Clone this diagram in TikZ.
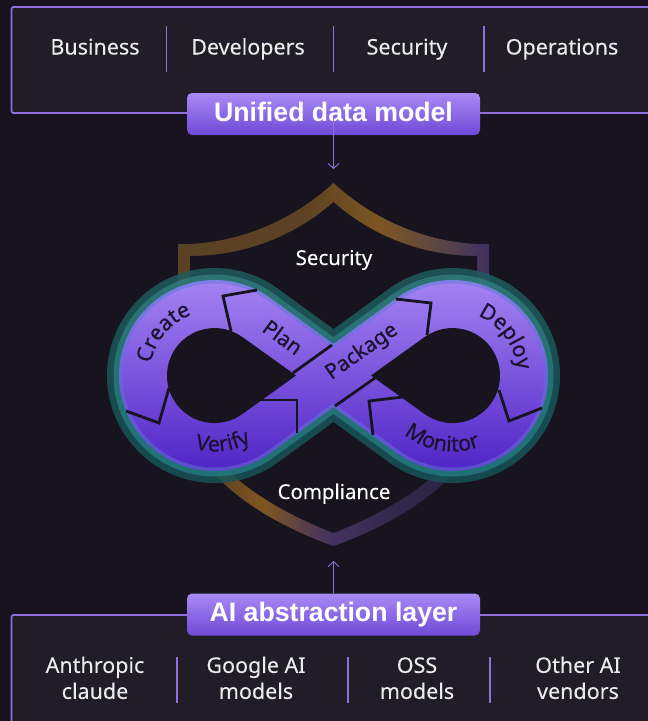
\documentclass[tikz,border=0pt]{standalone}
\usepackage{fontspec}
\setmainfont{Noto Sans}
\newfontfamily\medfont[FakeBold=0.55]{Noto Sans}
\newfontfamily\softfont[FakeBold=0.15]{Noto Sans}
\newfontfamily\pillfont{Liberation Sans}[BoldFont={* Bold}]
\usetikzlibrary{arrows.meta,decorations.text,calc}
\definecolor{bgdark}{HTML}{17141F}
\definecolor{panelbg}{HTML}{201D29}
\definecolor{edge}{HTML}{9070DC}
\definecolor{inktxt}{HTML}{1B1230}
\definecolor{seamc}{HTML}{17141F}
\definecolor{pilltop}{HTML}{A98AF5}
\definecolor{pillbot}{HTML}{6F49D6}
\definecolor{su1}{HTML}{5A4225}\definecolor{su2}{HTML}{5C4122}\definecolor{su3}{HTML}{7C5622}\definecolor{su4}{HTML}{5C4545}\definecolor{su5}{HTML}{3E3062}
\definecolor{sl1}{HTML}{5A4225}\definecolor{sl2}{HTML}{80561F}\definecolor{sl3}{HTML}{553C50}\definecolor{sl4}{HTML}{44315F}\definecolor{sl5}{HTML}{30274A}\definecolor{sl6}{HTML}{2A2440}
\definecolor{hoa}{HTML}{1F5F60}\definecolor{hob}{HTML}{1A7A7A}\definecolor{hoc}{HTML}{155458}
\definecolor{hia}{HTML}{307A78}\definecolor{hib}{HTML}{20B0A8}\definecolor{hic}{HTML}{1F7A7E}
\definecolor{rima}{HTML}{7F82E4}\definecolor{rimb}{HTML}{6464D0}\definecolor{rimc}{HTML}{5A48CC}
\definecolor{bodya}{HTML}{A987F5}\definecolor{bodyb}{HTML}{4C20C4}
\pgfdeclarehorizontalshading{shieldup}{100bp}{color(0bp)=(su1); color(25bp)=(su1); color(44.6bp)=(su2); color(57.5bp)=(su3); color(67bp)=(su4); color(75bp)=(su5); color(100bp)=(su5)}
\pgfdeclarehorizontalshading{shieldlow}{100bp}{color(0bp)=(sl1); color(31bp)=(sl1); color(38.7bp)=(sl2); color(46bp)=(sl3); color(50bp)=(sl4); color(60.7bp)=(sl5); color(75bp)=(sl6); color(100bp)=(sl6)}
\newcommand{\infshape}[2]{%
 \pgfmathsetmacro\infTx{214.5+#1*sin(36)}%
 \pgfmathsetmacro\infTy{375.5-#1*cos(36)}%
 \pgfmathsetmacro\infNy{\infTy+(333.5-\infTx)*tan(36)}%
 \pgfmathsetmacro\infRx{667-\infTx}%
 \pgfmathsetmacro\infBy{751-\infTy}%
 \pgfmathsetmacro\infMy{751-\infNy}%
 \path[#2] (\infTx,\infTy) -- (333.5,\infNy) -- (\infRx,\infTy)
   arc[start angle=-126,end angle=126,radius=#1pt]
   -- (333.5,\infMy) -- (\infTx,\infBy)
   arc[start angle=54,end angle=306,radius=#1pt] -- cycle;}
\newcommand{\evn}{\vphantom{Ålgy}}
\tikzset{
 labeltxt/.style={text=white!92!black,font=\softfont\fontsize{21.5}{26}\selectfont,align=center,inner sep=0pt},
 ringtxt/.style={text=white,font=\softfont\fontsize{20.4}{24}\selectfont,inner sep=0pt,anchor=base},
 pillbox/.style={rounded corners=5pt,top color=pilltop,bottom color=pillbot,text=white,font=\pillfont\fontsize{26.7}{30}\bfseries\selectfont,minimum width=293pt,minimum height=42pt,inner sep=0pt,text height=18pt,text depth=4pt},
 divider/.style={edge,line width=1.6pt},
 frameline/.style={edge,line width=1.7pt,rounded corners=2pt},
 seam/.style={seamc,line width=2.8pt,miter limit=10},
 flowarrow/.style={edge,line width=0.9pt,-{Straight Barb[length=5pt,width=11pt]}},
 bandtxt/.style={text=inktxt,font=\medfont\fontsize{21}{24}\selectfont,inner sep=0pt},
 arctxt/.style={decorate,decoration={text along path,text align=center,text color=inktxt}},
}
\newcommand{\arcfont}{\medfont\fontsize{21.5}{24}\selectfont}
\begin{document}
\begin{tikzpicture}[x=1pt,y=1pt,yscale=-1]
\useasboundingbox (0,0) rectangle (648,721);
\fill[bgdark] (0,0) rectangle (648,721);
% panels
\fill[panelbg] (11.5,7) rectangle (648,113);
\fill[panelbg] (11.5,615) rectangle (648,721);
\draw[frameline] (648,7) -- (11.5,7) -- (11.5,113) -- (648,113);
\draw[frameline] (648,615) -- (11.5,615) -- (11.5,722);
\draw[divider] (166.5,26) -- (166.5,72);
\draw[divider] (333.5,26) -- (333.5,72);
\draw[divider] (484,26) -- (484,72);
\draw[divider] (177,657) -- (177,703);
\draw[divider] (348,657) -- (348,703);
\draw[divider] (490,657) -- (490,703);
\node[labeltxt,anchor=base] (business) at (95,54.5) {Business};
\node[labeltxt,anchor=base] (developers) at (248,54.5) {Developers};
\node[labeltxt,anchor=base] (securitytop) at (407,54.5) {Security};
\node[labeltxt,anchor=base] (operations) at (562,54.5) {Operations};
\node[labeltxt] (anthropic) at (95,679) {\evn Anthropic\\\evn claude};
\node[labeltxt] (google) at (256,679) {\evn Google AI\\\evn models};
\node[labeltxt] (oss) at (417,679) {\evn OSS\\\evn models};
\node[labeltxt] (other) at (578,679) {\evn Other AI\\\evn vendors};
% shield
\path[shading=shieldup] (178,376) -- (178,244) -- (190,244) .. controls (250,241) and (300,214) .. (333.5,183) .. controls (367,214) and (417,241) .. (477,244) -- (489,244) -- (489,376) -- cycle;
\path[shading=shieldlow] (178,375) -- (178,400) .. controls (184,470) and (260,520) .. (333.5,546) .. controls (407,520) and (483,470) .. (489,400) -- (489,375) -- cycle;
\fill[bgdark] (190,376) -- (190,256) .. controls (250,256) and (300,232) .. (333.5,202) .. controls (367,232) and (417,256) .. (477,256) -- (477,376) -- cycle;
\fill[bgdark] (190,375) -- (190,400) .. controls (197,465) and (270,508) .. (333.5,533) .. controls (397,508) and (470,465) .. (477,400) -- (477,375) -- cycle;
\node[ringtxt] (security) at (334,265) {Security};
\node[ringtxt] (compliance) at (334,499) {Compliance};
% infinity
\infshape{107.5}{top color=hoa,middle color=hob,bottom color=hoc,fill opacity=.82}
\infshape{101}{top color=hia,middle color=hib,bottom color=hic,fill opacity=.85}
\infshape{95.5}{top color=rima,middle color=rimb,bottom color=rimc}
\infshape{92}{top color=bodya,bottom color=bodyb}
% holes
\fill[bgdark] (242.4,337) -- (296,375.5) -- (242.4,414) arc[start angle=54,end angle=306,radius=47.5pt] -- cycle;
\fill[bgdark] (424.6,337) -- (371,375.5) -- (424.6,414) arc[start angle=126,end angle=-126,radius=47.5pt] -- cycle;
% seams
\draw[seam] (257,290) -- (223,296) -- (231,331);
\draw[seam] (332,345) -- (293,373);
\draw[seam] (335,406) -- (375,378);
\draw[seam] (260,400) -- (297,400) -- (297,433);
\draw[seam] (126,411) -- (159,423) -- (169,388);
\draw[seam] (396,299) -- (431,303) -- (427,335);
\draw[seam] (499,390) -- (509,421) -- (542,408);
\draw[seam] (403,397) -- (369,401) -- (373,435);
% band labels
\node[bandtxt,rotate=-36] (plan) at (283,337) {Plan};
\node[bandtxt,rotate=35] (package) at (362,352) {Package};
\begin{scope}[yscale=-1]
\path[arctxt,decoration={text={|\arcfont|Create}}] ([shift={(178:65pt)}]214.5,-375.5) arc[start angle=178,end angle=102,radius=65pt];
\path[arctxt,decoration={text={|\arcfont|Deploy}}] ([shift={(75:65pt)}]452.5,-375.5) arc[start angle=75,end angle=-3,radius=65pt];
\path[arctxt,decoration={text={|\arcfont|Verify}}] ([shift={(240:76pt)}]214.5,-375.5) arc[start angle=240,end angle=314,radius=76pt];
\path[arctxt,decoration={text={|\arcfont|Monitor}}] ([shift={(220:76pt)}]452.5,-375.5) arc[start angle=220,end angle=302,radius=76pt];
\end{scope}
% title pills
\node[pillbox] (unified) at (333.5,114) {Unified data model};
\node[pillbox] (abstraction) at (333.5,614.5) {AI abstraction layer};
\coordinate (topstart) at (333.5,118);
\coordinate (toptip) at (333.5,169);
\coordinate (bottomtip) at (333.5,561);
\draw[flowarrow] (topstart) -- (toptip);
\draw[flowarrow] (abstraction.north) -- (bottomtip);
\end{tikzpicture}
\end{document}
